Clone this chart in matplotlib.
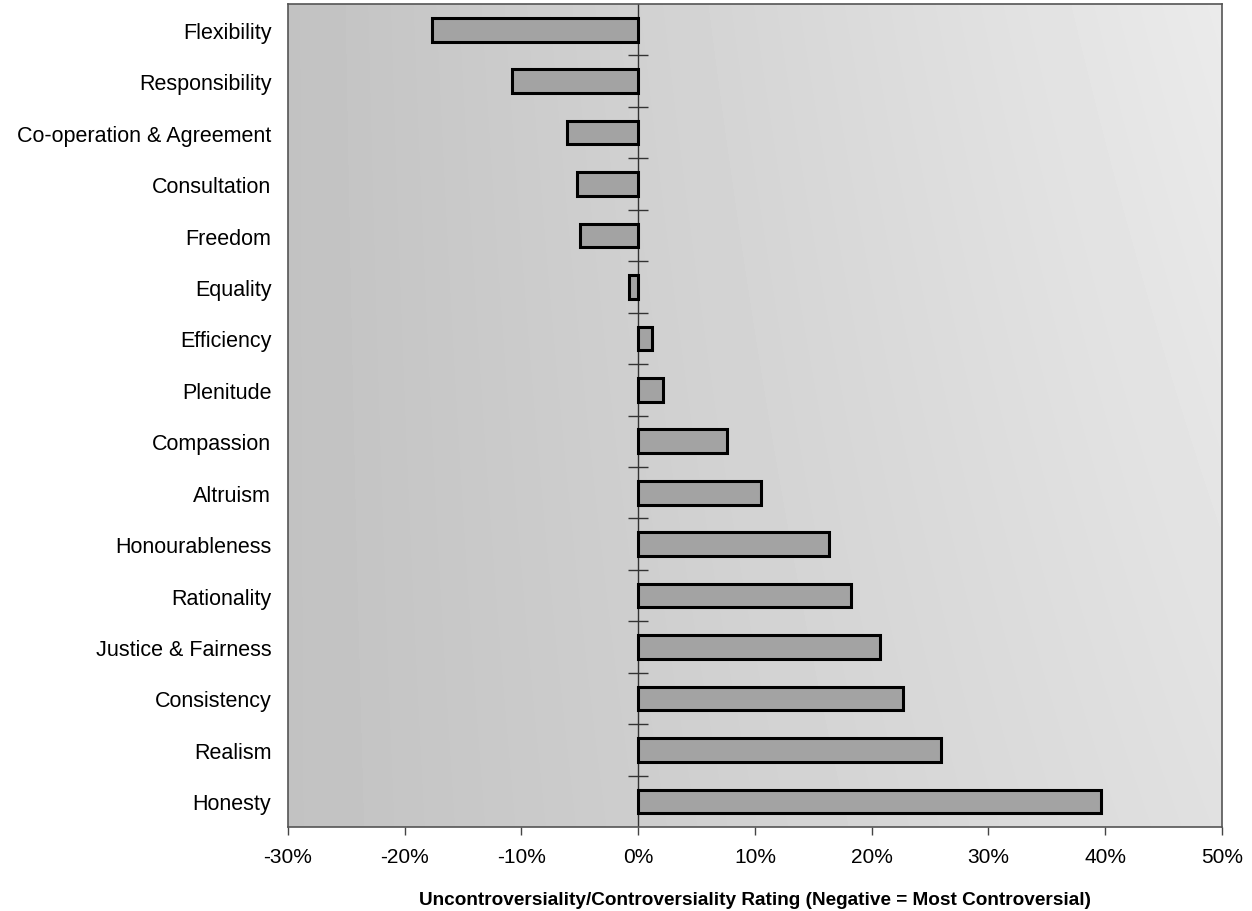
import numpy as np
import matplotlib
matplotlib.use("Agg")
import matplotlib.pyplot as plt
from matplotlib.ticker import FuncFormatter

plt.rcParams['font.family'] = ['Liberation Sans', 'DejaVu Sans']

# values, top to bottom
categories = ["Flexibility", "Responsibility", "Co-operation & Agreement", "Consultation",
              "Freedom", "Equality", "Efficiency", "Plenitude", "Compassion", "Altruism",
              "Honourableness", "Rationality", "Justice & Fairness", "Consistency",
              "Realism", "Honesty"]
ratings = [-17.7, -10.8, -6.1, -5.2, -5.0, -0.8, 1.2, 2.1, 7.6, 10.5,
           16.3, 18.2, 20.7, 22.7, 25.9, 39.6]
x_ticks = [-30, -20, -10, 0, 10, 20, 30, 40, 50]

fig = plt.figure(figsize=(12.52, 9.12), dpi=100)
ax = fig.add_axes([0.230, 0.092, 0.746, 0.9025])

n = len(categories)
ypos = np.arange(n)

# scanned-looking gray background: darker on the left, lighter top-right
gx = np.linspace(0, 1, 200)
gy = np.linspace(0, 1, 120)
GX, GY = np.meshgrid(gx, gy)
shade = 0.76 + 0.12 * GX + 0.04 * GX * (1 - GY)
ax.imshow(shade, cmap='gray', vmin=0, vmax=1, aspect='auto',
          extent=(x_ticks[0], x_ticks[-1], n - 0.5, -0.5), zorder=0, interpolation='bilinear')

ax.barh(ypos, ratings, height=0.46, color='#a3a3a3', edgecolor='black', linewidth=2.2, zorder=3)

ax.set_xlim(x_ticks[0], x_ticks[-1])
ax.set_ylim(n - 0.5, -0.5)

# vertical axis line at 0 with crossing ticks between categories
ax.axvline(0, color='#333333', linewidth=1.0, zorder=2)
ax.plot(np.zeros(n - 1), ypos[:-1] + 0.5, linestyle='none', marker='_',
        markersize=14, color='#333333', markeredgewidth=1.0, zorder=2)

ax.set_yticks(ypos)
ax.set_yticklabels(categories, fontsize=15.5)
ax.tick_params(axis='y', length=0, pad=12)

ax.set_xticks(x_ticks)
ax.xaxis.set_major_formatter(FuncFormatter(lambda v, p: f"{v:.0f}%"))
ax.tick_params(axis='x', direction='out', length=6, width=1, labelsize=15, pad=8, color='#444444')

ax.set_xlabel("Uncontroversiality/Controversiality Rating (Negative = Most Controversial)",
              fontsize=13.7, fontweight='bold', labelpad=18)

for s in ax.spines.values():
    s.set_color('#555555')
    s.set_linewidth(1.2)

fig.savefig("out.png", dpi=100, facecolor='white')
